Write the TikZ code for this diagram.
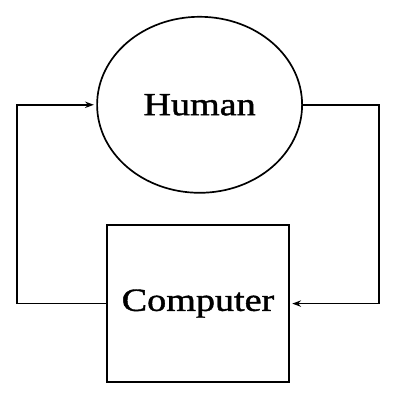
\documentclass[tikz,border=0pt]{standalone}
\usepackage{fontspec}
\setmainfont{Liberation Serif}
\newfontfamily\labelfont{Liberation Serif}[FakeBold=1.2]
\usetikzlibrary{shapes.geometric,arrows.meta}
\newcommand{\widetext}[1]{\scalebox{1.18}[1]{#1}}
\begin{document}
\begin{tikzpicture}
[humandecorate/.style={shape=ellipse,draw,line width=1.2pt,inner sep=0pt,
   minimum width=5.125cm,minimum height=4.4cm},%
  computerdecorate/.style={shape=rectangle,draw,line width=1.2pt,inner sep=0pt,
   minimum width=4.55cm,minimum height=3.925cm},%
  textdecorate/.style={font=\labelfont\fontsize{23}{28}\selectfont},%
  linedecorate/.style={-{Stealth[length=2.2mm,width=1.6mm]},line width=1.2pt,
   shorten >=0.6mm}]
\useasboundingbox (0,0) rectangle (10,10);
%% nodes or vertices
\node (human) at (4.99,7.38) [humandecorate,textdecorate] {\widetext{Human}};
\node (computer) at (4.95,2.41) [computerdecorate,textdecorate] {\widetext{Computer}};
%% corners of the loop
\foreach \cornername/\x/\y in {topleft/0.425/7.38, bottomleft/0.425/2.41,
  topright/9.475/7.38, bottomright/9.475/2.41}
{
  \coordinate (\cornername) at (\x,\y);
}
%% edges or lines
\draw[linedecorate] (computer.west) -- (bottomleft) -- (topleft) -- (human.west);
\draw[linedecorate] (human.east) -- (topright) -- (bottomright) -- (computer.east);
\end{tikzpicture}
\end{document}
